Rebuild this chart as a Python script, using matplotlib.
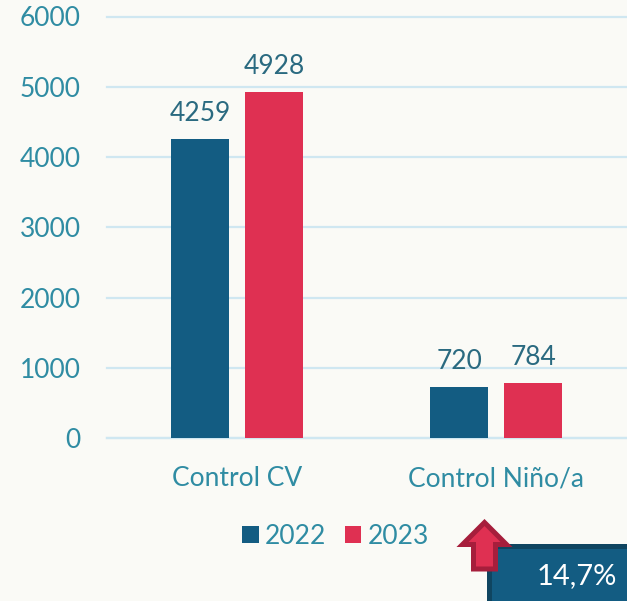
import matplotlib
matplotlib.use("Agg")
import matplotlib.pyplot as plt
from matplotlib.patches import Polygon, Rectangle
import numpy as np

categories = ["Control CV", "Control Niño/a"]
series_names = ["2022", "2023"]
values_2022 = [4259, 720]
values_2023 = [4928, 784]
y_ticks = [0, 1000, 2000, 3000, 4000, 5000, 6000]
change_label = "14,7%"

BG = "#FAFAF6"
BLUE = "#135C82"
RED = "#DF3052"
TICK = "#2F8CA3"
LABEL = "#2A6A80"
GRID = "#CFE7F1"
W, H = 627, 601

plt.rcParams["font.family"] = ["Lato", "DejaVu Sans"]

fig = plt.figure(figsize=(W / 100, H / 100), dpi=100, facecolor=BG)
ax = fig.add_axes([107 / W, 1 - 438 / H, 520 / W, (438 - 16.5) / H], facecolor=BG)

x = np.arange(len(categories))
bar_w = 0.224
offset = 0.1429
bars_a = ax.bar(x - offset, values_2022, bar_w, color=BLUE, label=series_names[0], zorder=3)
bars_b = ax.bar(x + offset, values_2023, bar_w, color=RED, label=series_names[1], zorder=3)

for bars in (bars_a, bars_b):
    ax.bar_label(bars, padding=9.5, fontsize=19, color=LABEL)

ax.set_xlim(-0.5035, 1.5042)
ax.set_ylim(0, 6000)
ax.set_yticks(y_ticks)
ax.set_xticks(x, categories)
ax.grid(axis="y", color=GRID, linewidth=1.6, zorder=0, clip_on=False)
ax.set_axisbelow(True)
ax.tick_params(axis="both", length=0, labelsize=19, labelcolor=TICK)
ax.tick_params(axis="y", pad=19)
ax.tick_params(axis="x", pad=20.5)
for side in ["top", "right", "left"]:
    ax.spines[side].set_visible(False)
ax.spines["bottom"].set_color(GRID)
ax.spines["bottom"].set_linewidth(1.6)

ax.legend(
    loc="center", bbox_to_anchor=(335.5 / W, 1 - 536 / H), bbox_transform=fig.transFigure,
    ncol=2, frameon=False, fontsize=19, labelcolor=TICK,
    handlelength=0.62, handleheight=0.62, handletextpad=0.23, columnspacing=0.71,
)


# callout shapes are placed in pixel coordinates
def px(pts):
    return [(a / W, 1 - b / H) for a, b in pts]


fig.add_artist(Rectangle((488.5 / W, -0.02), 145 / W, 1 - 545.5 / H + 0.02, transform=fig.transFigure,
                         facecolor=BLUE, edgecolor="#0F4560", linewidth=3.6, joinstyle="miter"))
arrow = [(484.5, 522.5), (506.5, 544.5), (495.5, 544.5), (495.5, 569), (473.5, 569), (473.5, 544.5), (462.5, 544.5)]
fig.add_artist(Polygon(px(arrow), closed=True, transform=fig.transFigure,
                       facecolor=RED, edgecolor="#A61E3C", linewidth=3.6, joinstyle="miter"))
fig.text(576.5 / W, 1 - 576 / H, change_label, color="white", fontsize=21, ha="center", va="center")

fig.savefig("out.png", dpi=100, facecolor=BG)
